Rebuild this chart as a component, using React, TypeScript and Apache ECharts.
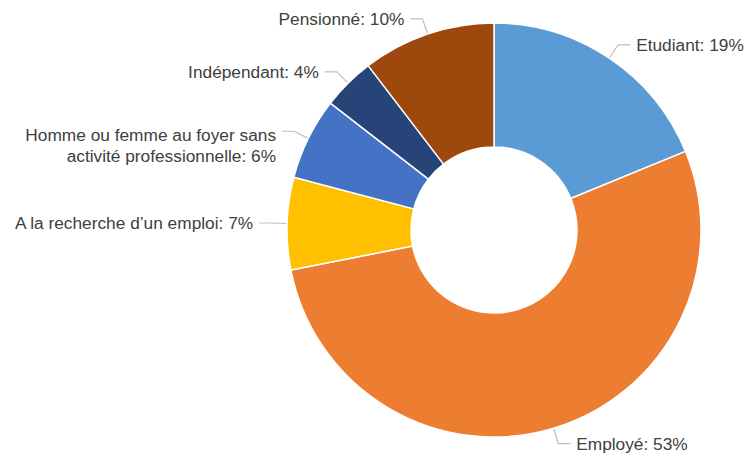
import React, { useEffect, useRef } from "react";
import * as echarts from "echarts";

const categories = [
  "Etudiant",
  "Employé",
  "A la recherche d’un emploi",
  "Homme ou femme au foyer sans\nactivité professionnelle",
  "Indépendant",
  "Pensionné",
];
// shares (%); labels show the rounded value
const values = [18.8, 53.1, 7.2, 6.4, 4.1, 10.4];
const colors = ["#5B9BD5", "#ED7D31", "#FFC000", "#4472C4", "#264478", "#9E480E"];

export default function App() {
  const ref = useRef<HTMLDivElement>(null);
  useEffect(() => {
    if (!ref.current) return;
    const chart = echarts.init(ref.current, null, { renderer: "svg" });
    chart.setOption({
      animation: false,
      backgroundColor: "#ffffff",
      series: [
        {
          type: "pie",
          center: [494, 230],
          radius: [83, 207],
          startAngle: 90,
          clockwise: true,
          avoidLabelOverlap: true,
          data: categories.map((c, i) => ({
            name: c,
            value: values[i],
            itemStyle: { color: colors[i] },
          })),
          itemStyle: { borderColor: "#ffffff", borderWidth: 1.5 },
          label: {
            show: true,
            position: "outside",
            formatter: (p: any) => `${p.name}: ${Math.round(p.value)}%`,
            color: "#404040",
            fontFamily: "Liberation Sans, Arial, sans-serif",
            fontSize: 17.3,
            lineHeight: 21,
            overflow: "none",
            distanceToLabelLine: 6,
          },
          labelLine: {
            show: true,
            length: 16,
            length2: 12,
            lineStyle: { color: "#BFBFBF", width: 1.2 },
          },
          labelLayout: (params: any) =>
            categories[params.dataIndex].includes("\n") ? { dy: 14 } : {},
        },
      ],
    });
    return () => chart.dispose();
  }, []);
  return (
    <div
      ref={ref}
      style={{ position: "fixed", left: 0, top: 0, width: 747, height: 460 }}
    />
  );
}
